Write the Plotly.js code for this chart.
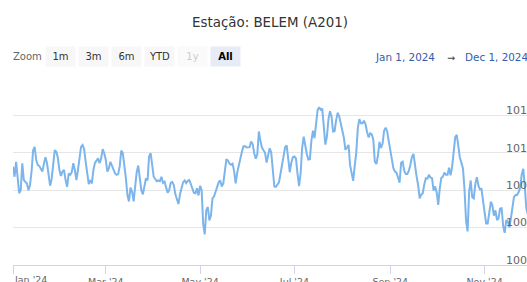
<!DOCTYPE html>
<html><head><meta charset="utf-8">
<script src="https://cdn.plot.ly/plotly-3.0.1.min.js"></script>
<style>html,body{margin:0;padding:0;overflow:hidden;background:#fff;width:527px;height:282px}#chart{width:540px;height:282px}</style>
</head><body><div id="chart"></div>
<script>
// ---- data (daily mean station pressure, hPa, from 2024-01-01) ----
const startDate = '2024-01-01';
const pressure = [
1009.63,1009.36,1009.76,1009.32,1008.92,1009.00,1009.72,1009.27,1009.23,1009.18,
1009.00,1009.14,1009.50,1010.07,1010.16,1009.81,1009.67,1009.65,1009.57,1009.50,
1009.71,1009.88,1009.72,1009.36,1009.12,1009.30,1009.63,1010.07,1010.03,1009.87,
1009.54,1009.38,1009.50,1009.54,1009.27,1009.09,1009.45,1009.41,1009.48,1009.72,
1009.54,1009.27,1009.54,1009.94,1010.16,1010.21,1010.10,1009.76,1009.39,1009.16,
1009.27,1009.18,1009.54,1009.73,1009.79,1009.85,1009.72,1009.85,1010.10,1009.99,
1009.81,1009.50,1009.58,1009.76,1009.66,1009.56,1009.45,1009.41,1009.43,1009.63,
1010.06,1009.99,1009.72,1009.32,1008.87,1008.70,1009.07,1008.96,1008.70,1009.12,
1009.48,1009.66,1009.34,1009.00,1008.89,1009.12,1009.32,1009.26,1009.90,1009.99,
1009.63,1009.36,1009.30,1009.24,1009.26,1009.24,1009.36,1009.20,1009.23,1009.05,
1008.93,1009.00,1009.20,1009.22,1009.14,1008.89,1008.75,1008.63,1008.89,1009.09,
1009.21,1009.26,1009.19,1009.25,1009.27,1009.16,1009.04,1008.93,1008.92,1009.05,
1008.86,1009.12,1009.00,1008.10,1007.82,1008.47,1008.55,1008.19,1008.32,1008.78,
1008.83,1008.95,1009.11,1009.21,1009.26,1009.10,1009.18,1009.58,1009.83,1009.79,
1009.71,1009.68,1009.71,1009.51,1009.18,1009.47,1009.65,1009.91,1010.02,1010.17,
1010.18,1010.14,1010.15,1010.15,1010.30,1010.23,1009.99,1009.84,1009.96,1010.57,
1010.32,1010.14,1010.07,1010.00,1009.74,1009.94,1010.12,1010.01,1009.51,1009.10,
1009.09,1009.17,1009.21,1009.44,1009.65,1009.85,1010.15,1010.20,1009.85,1009.48,
1009.74,1009.88,1009.90,1009.85,1009.44,1009.11,1009.44,1010.13,1010.43,1010.17,
1009.97,1009.82,1009.83,1010.33,1010.59,1010.39,1010.78,1011.14,1011.22,1011.15,
1011.18,1010.77,1010.22,1010.43,1010.89,1011.11,1010.97,1010.57,1010.58,1010.88,
1011.07,1010.97,1010.74,1010.59,1010.40,1010.08,1010.14,1010.21,1009.67,1009.42,
1009.25,1009.65,1010.01,1010.66,1010.90,1010.79,1010.79,1010.86,1010.76,1010.55,
1010.41,1010.52,1010.49,1010.36,1009.76,1009.70,1009.92,1010.29,1010.13,1010.24,
1010.59,1010.67,1010.57,1010.31,1010.07,1009.83,1009.59,1009.50,1009.47,1009.34,
1009.20,1009.73,1009.76,1009.52,1009.43,1009.43,1009.52,1009.68,1009.89,1009.97,
1009.60,1009.37,1009.14,1008.78,1008.88,1008.92,1009.16,1009.32,1009.31,1009.41,
1009.34,1009.32,1008.99,1009.10,1008.94,1008.61,1009.05,1009.33,1009.36,1009.47,
1009.41,1009.41,1009.60,1009.40,1009.63,1010.01,1010.42,1010.48,1010.19,1009.87,
1009.73,1009.58,1009.03,1008.18,1007.90,1008.96,1009.26,1008.81,1008.78,1009.17,
1009.35,1009.12,1009.02,1009.03,1008.71,1008.38,1008.11,1008.11,1008.41,1008.69,
1008.60,1008.32,1008.46,1008.20,1008.25,1008.51,1008.52,1008.04,1007.86,1008.20,
1008.16,1008.00,1008.25,1008.58,1008.82,1008.87,1008.87,1008.95,1009.07,1009.42,
1009.57,1009.09,1008.51,1008.34,1008.34,1008.43
];
const xTickVals = ['2024-01-01','2024-03-01','2024-05-01','2024-07-01','2024-09-01','2024-11-01'];
const xTickText = ["Jan '24","Mar '24","May '24","Jul '24","Sep '24","Nov '24"];
const yTickVals = [1007,1008,1009,1010,1011,1012];
const yTickText = ['1007','1008','1009','1010','1011',''];
const xRange = ['2024-01-01','2024-12-01'];
const yRange = [1007,1012];
const titleText = 'Estação: BELEM (A201)';
const zoomLabel = 'Zoom';
const rangeButtons = ['1m','3m','6m','YTD','1y','All'];
const rangeFrom = 'Jan 1, 2024';
const rangeArrow = '→';
const rangeTo = 'Dec 1, 2024';

// ---- build ----
function dayString(i){ const d = new Date(Date.parse(startDate + 'T00:00:00Z') + i*86400000); return d.toISOString().slice(0,10); }
const dates = pressure.map((_, i) => dayString(i));

const W = 540, H = 282, L = 13, R = 9, T = 78, B = 17;
const plotW = W - L - R, plotH = H - T - B;
const px = x => (x - L) / plotW;
const py = y => (H - B - y) / plotH;
const FONT = 'DejaVu Sans';

const annotations = [];
annotations.push({xref:'paper', yref:'paper', x:px(12), y:py(56.5), xanchor:'left', yanchor:'middle',
  text: zoomLabel, showarrow:false, borderpad:0, font:{family:FONT, size:10, color:'#666666'}});
rangeButtons.forEach((b, i) => {
  const left = 46 + 33*i, w = 29;
  const disabled = (b === '1y'), selected = (b === 'All');
  annotations.push({xref:'paper', yref:'paper', x:px(left + w/2), y:py(56.5), xanchor:'center', yanchor:'middle',
    text: selected ? '<b>'+b+'</b>' : b, showarrow:false, width:w, height:19, borderpad:0, align:'center', valign:'middle',
    bgcolor: selected ? '#e6ebf5' : (disabled ? '#fafafa' : '#f7f7f7'),
    font:{family:FONT, size:10, color: selected ? '#000000' : (disabled ? '#cccccc' : '#333333')}});
});
annotations.push({xref:'paper', yref:'paper', x:px(374), y:py(57), xanchor:'left', yanchor:'middle',
  text: rangeFrom, showarrow:false, borderpad:0, font:{family:FONT, size:10.4, color:'#335cad'}});
annotations.push({xref:'paper', yref:'paper', x:px(451), y:py(57), xanchor:'center', yanchor:'middle',
  text: rangeArrow, showarrow:false, borderpad:0, font:{family:FONT, size:9.5, color:'#444444'}});
annotations.push({xref:'paper', yref:'paper', x:px(464), y:py(57), xanchor:'left', yanchor:'middle',
  text: rangeTo, showarrow:false, borderpad:0, font:{family:FONT, size:10.4, color:'#335cad'}});
// first x label is justified to the left edge (as the original chart does)
annotations.push({xref:'x', yref:'paper', x:xTickVals[0], y:py(273), xanchor:'left', yanchor:'top',
  text: xTickText[0], showarrow:false, borderpad:0, font:{family:FONT, size:9.5, color:'#666666'}});

const trace = {type:'scatter', mode:'lines', x:dates, y:pressure,
  line:{color:'#7cb5ec', width:2}, hoverinfo:'skip'};

const layout = {
  width:W, height:H, margin:{l:L, r:R, t:T, b:B, pad:0},
  paper_bgcolor:'#ffffff', plot_bgcolor:'#ffffff',
  font:{family:FONT, color:'#333333'},
  showlegend:false,
  title:{text:titleText, font:{family:FONT, size:13.4, color:'#333333'}, x:0.5, xref:'container', xanchor:'center',
    y:1 - 22.5/H, yref:'container', yanchor:'middle'},
  xaxis:{type:'date', range:xRange, tickvals:xTickVals, ticktext:xTickText.map((t,i)=> i===0 ? '' : t),
    showgrid:false, zeroline:false, showline:true, linecolor:'#ccd6eb', linewidth:1,
    ticks:'outside', ticklen:8, tickwidth:1, tickcolor:'#ccd6eb',
    tickfont:{family:FONT, size:9.5, color:'#666666'}, fixedrange:true},
  yaxis:{range:yRange, side:'right', tickvals:yTickVals, ticktext:yTickText,
    ticklabelposition:'inside', ticklabelstandoff:-6, ticklabelshift:-5, ticklabeloverflow:'allow',
    showgrid:true, gridcolor:'#e6e6e6', gridwidth:1, zeroline:false, showline:false, ticks:'',
    tickfont:{family:FONT, size:11, color:'#666666'}, fixedrange:true},
  annotations: annotations
};

Plotly.newPlot('chart', [trace], layout, {displayModeBar:false, staticPlot:true});
</script>
</body></html>
